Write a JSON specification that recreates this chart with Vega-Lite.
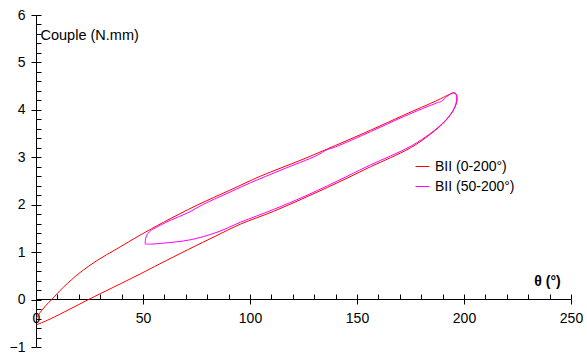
{
  "$schema": "https://vega.github.io/schema/vega-lite/v6.json",
  "width": 535,
  "height": 332,
  "autosize": "none",
  "padding": {"left": 36, "top": 15, "right": 16, "bottom": 8},
  "background": "white",
  "config": {
    "view": {"stroke": null},
    "font": "Liberation Sans",
    "axis": {"grid": false, "domainColor": "#000", "tickColor": "#000", "labelColor": "#000", "titleColor": "#000", "labelFont": "Liberation Sans", "titleFont": "Liberation Sans", "labelFontSize": 14, "titleFontSize": 14, "domainWidth": 1, "tickWidth": 1}
  },
  "data": {"values": [
    {"s": "BII (0-200°)", "i": 0, "x": 0, "y": -0.40},
    {"s": "BII (0-200°)", "i": 1, "x": 2, "y": -0.27},
    {"s": "BII (0-200°)", "i": 2, "x": 4.5, "y": -0.13},
    {"s": "BII (0-200°)", "i": 3, "x": 7.3, "y": 0.0},
    {"s": "BII (0-200°)", "i": 4, "x": 12.8, "y": 0.26},
    {"s": "BII (0-200°)", "i": 5, "x": 20.6, "y": 0.57},
    {"s": "BII (0-200°)", "i": 6, "x": 28.4, "y": 0.82},
    {"s": "BII (0-200°)", "i": 7, "x": 37.8, "y": 1.07},
    {"s": "BII (0-200°)", "i": 8, "x": 48.7, "y": 1.36},
    {"s": "BII (0-200°)", "i": 9, "x": 59.6, "y": 1.63},
    {"s": "BII (0-200°)", "i": 10, "x": 75.2, "y": 1.99},
    {"s": "BII (0-200°)", "i": 11, "x": 90.8, "y": 2.31},
    {"s": "BII (0-200°)", "i": 12, "x": 104.8, "y": 2.60},
    {"s": "BII (0-200°)", "i": 13, "x": 124.3, "y": 2.95},
    {"s": "BII (0-200°)", "i": 14, "x": 140, "y": 3.25},
    {"s": "BII (0-200°)", "i": 15, "x": 156.3, "y": 3.57},
    {"s": "BII (0-200°)", "i": 16, "x": 171.9, "y": 3.89},
    {"s": "BII (0-200°)", "i": 17, "x": 187.5, "y": 4.20},
    {"s": "BII (0-200°)", "i": 18, "x": 192.5, "y": 4.31},
    {"s": "BII (0-200°)", "i": 19, "x": 195, "y": 4.36},
    {"s": "BII (0-200°)", "i": 20, "x": 196.3, "y": 4.33},
    {"s": "BII (0-200°)", "i": 21, "x": 196.8, "y": 4.22},
    {"s": "BII (0-200°)", "i": 22, "x": 195.5, "y": 4.03},
    {"s": "BII (0-200°)", "i": 23, "x": 191.4, "y": 3.77},
    {"s": "BII (0-200°)", "i": 24, "x": 184.4, "y": 3.49},
    {"s": "BII (0-200°)", "i": 25, "x": 175, "y": 3.20},
    {"s": "BII (0-200°)", "i": 26, "x": 165.6, "y": 2.99},
    {"s": "BII (0-200°)", "i": 27, "x": 156.3, "y": 2.80},
    {"s": "BII (0-200°)", "i": 28, "x": 145.4, "y": 2.56},
    {"s": "BII (0-200°)", "i": 29, "x": 126.7, "y": 2.17},
    {"s": "BII (0-200°)", "i": 30, "x": 111, "y": 1.86},
    {"s": "BII (0-200°)", "i": 31, "x": 95.5, "y": 1.59},
    {"s": "BII (0-200°)", "i": 32, "x": 84, "y": 1.34},
    {"s": "BII (0-200°)", "i": 33, "x": 71.3, "y": 1.06},
    {"s": "BII (0-200°)", "i": 34, "x": 57.7, "y": 0.75},
    {"s": "BII (0-200°)", "i": 35, "x": 48.7, "y": 0.54},
    {"s": "BII (0-200°)", "i": 36, "x": 36.2, "y": 0.26},
    {"s": "BII (0-200°)", "i": 37, "x": 24.5, "y": 0.0},
    {"s": "BII (0-200°)", "i": 38, "x": 15.9, "y": -0.20},
    {"s": "BII (0-200°)", "i": 39, "x": 6.6, "y": -0.41},
    {"s": "BII (0-200°)", "i": 40, "x": 2.5, "y": -0.49},
    {"s": "BII (0-200°)", "i": 41, "x": 0.3, "y": -0.53},
    {"s": "BII (50-200°)", "i": 0, "x": 51.0, "y": 1.17},
    {"s": "BII (50-200°)", "i": 1, "x": 51.2, "y": 1.28},
    {"s": "BII (50-200°)", "i": 2, "x": 51.8, "y": 1.36},
    {"s": "BII (50-200°)", "i": 3, "x": 53, "y": 1.43},
    {"s": "BII (50-200°)", "i": 4, "x": 54.9, "y": 1.49},
    {"s": "BII (50-200°)", "i": 5, "x": 62.7, "y": 1.67},
    {"s": "BII (50-200°)", "i": 6, "x": 70.5, "y": 1.82},
    {"s": "BII (50-200°)", "i": 7, "x": 78.3, "y": 2.01},
    {"s": "BII (50-200°)", "i": 8, "x": 90.8, "y": 2.27},
    {"s": "BII (50-200°)", "i": 9, "x": 100.1, "y": 2.46},
    {"s": "BII (50-200°)", "i": 10, "x": 115, "y": 2.74},
    {"s": "BII (50-200°)", "i": 11, "x": 131.3, "y": 3.04},
    {"s": "BII (50-200°)", "i": 12, "x": 136, "y": 3.16},
    {"s": "BII (50-200°)", "i": 13, "x": 140, "y": 3.22},
    {"s": "BII (50-200°)", "i": 14, "x": 156.3, "y": 3.54},
    {"s": "BII (50-200°)", "i": 15, "x": 171.9, "y": 3.86},
    {"s": "BII (50-200°)", "i": 16, "x": 187.5, "y": 4.15},
    {"s": "BII (50-200°)", "i": 17, "x": 189.5, "y": 4.18},
    {"s": "BII (50-200°)", "i": 18, "x": 192, "y": 4.28},
    {"s": "BII (50-200°)", "i": 19, "x": 194.5, "y": 4.35},
    {"s": "BII (50-200°)", "i": 20, "x": 196, "y": 4.35},
    {"s": "BII (50-200°)", "i": 21, "x": 196.6, "y": 4.25},
    {"s": "BII (50-200°)", "i": 22, "x": 195.6, "y": 4.05},
    {"s": "BII (50-200°)", "i": 23, "x": 191.8, "y": 3.80},
    {"s": "BII (50-200°)", "i": 24, "x": 184.8, "y": 3.52},
    {"s": "BII (50-200°)", "i": 25, "x": 175.4, "y": 3.24},
    {"s": "BII (50-200°)", "i": 26, "x": 165.8, "y": 3.03},
    {"s": "BII (50-200°)", "i": 27, "x": 156.3, "y": 2.84},
    {"s": "BII (50-200°)", "i": 28, "x": 145.4, "y": 2.60},
    {"s": "BII (50-200°)", "i": 29, "x": 126.7, "y": 2.20},
    {"s": "BII (50-200°)", "i": 30, "x": 111, "y": 1.90},
    {"s": "BII (50-200°)", "i": 31, "x": 95.5, "y": 1.63},
    {"s": "BII (50-200°)", "i": 32, "x": 84.6, "y": 1.42},
    {"s": "BII (50-200°)", "i": 33, "x": 72.1, "y": 1.26},
    {"s": "BII (50-200°)", "i": 34, "x": 59.6, "y": 1.19},
    {"s": "BII (50-200°)", "i": 35, "x": 54, "y": 1.17},
    {"s": "BII (50-200°)", "i": 36, "x": 51.0, "y": 1.17}
  ]},
  "resolve": {"axis": {"x": "independent", "y": "independent"}},
  "layer": [
    {
      "mark": {"type": "line", "strokeWidth": 1, "clip": false, "interpolate": "catmull-rom"},
      "encoding": {
        "x": {"field": "x", "type": "quantitative", "scale": {"domain": [0, 250], "nice": false, "zero": false},
          "axis": {"orient": "bottom", "offset": -48, "values": [0, 50, 100, 150, 200, 250], "tickSize": 5, "labelPadding": 7, "domain": false, "labelFlush": false,
            "title": "θ (°)", "titleFontWeight": "bold", "titleX": 511, "titleY": -18, "titleAlign": "center", "titleBaseline": "middle", "titleAnchor": null}},
        "y": {"field": "y", "type": "quantitative", "scale": {"domain": [-1, 6], "nice": false, "zero": false},
          "axis": {"orient": "left", "values": [-1, 0, 1, 2, 3, 4, 5, 6], "tickSize": 5, "labelPadding": 6, "domain": false, "labelFlush": false,
            "title": "Couple (N.mm)", "titleFontSize": 14.5, "titleFontWeight": "normal", "titleAngle": 0, "titleX": 4, "titleY": 20, "titleAlign": "left", "titleBaseline": "middle", "titleAnchor": null}},
        "color": {"field": "s", "type": "nominal",
          "scale": {"domain": ["BII (0-200°)", "BII (50-200°)"], "range": ["#ff0000", "#ff00ff"]},
          "legend": {"title": null, "orient": "none", "legendX": 379, "legendY": 144, "symbolType": "stroke", "symbolSize": 196, "symbolStrokeWidth": 1, "labelFontSize": 14, "labelFont": "Liberation Sans", "labelColor": "#000", "rowPadding": 5, "labelOffset": 5}},
        "order": {"field": "i", "type": "quantitative"}
      }
    },
    {
      "mark": {"type": "line", "opacity": 0},
      "encoding": {
        "x": {"field": "x", "type": "quantitative",
          "axis": {"orient": "bottom", "offset": -48, "values": [0, 10, 20, 30, 40, 50, 60, 70, 80, 90, 100, 110, 120, 130, 140, 150, 160, 170, 180, 190, 200, 210, 220, 230, 240, 250], "tickSize": -5, "labels": false, "domain": true, "title": null}},
        "y": {"field": "y", "type": "quantitative",
          "axis": {"orient": "left", "values": [-1, -0.8, -0.6, -0.4, -0.2, 0, 0.2, 0.4, 0.6, 0.8, 1, 1.2, 1.4, 1.6, 1.8, 2, 2.2, 2.4, 2.6, 2.8, 3, 3.2, 3.4, 3.6, 3.8, 4, 4.2, 4.4, 4.6, 4.8, 5, 5.2, 5.4, 5.6, 5.8, 6], "tickSize": -5, "labels": false, "domain": true, "title": null}},
        "detail": {"field": "s", "type": "nominal"},
        "order": {"field": "i", "type": "quantitative"}
      }
    }
  ]
}
